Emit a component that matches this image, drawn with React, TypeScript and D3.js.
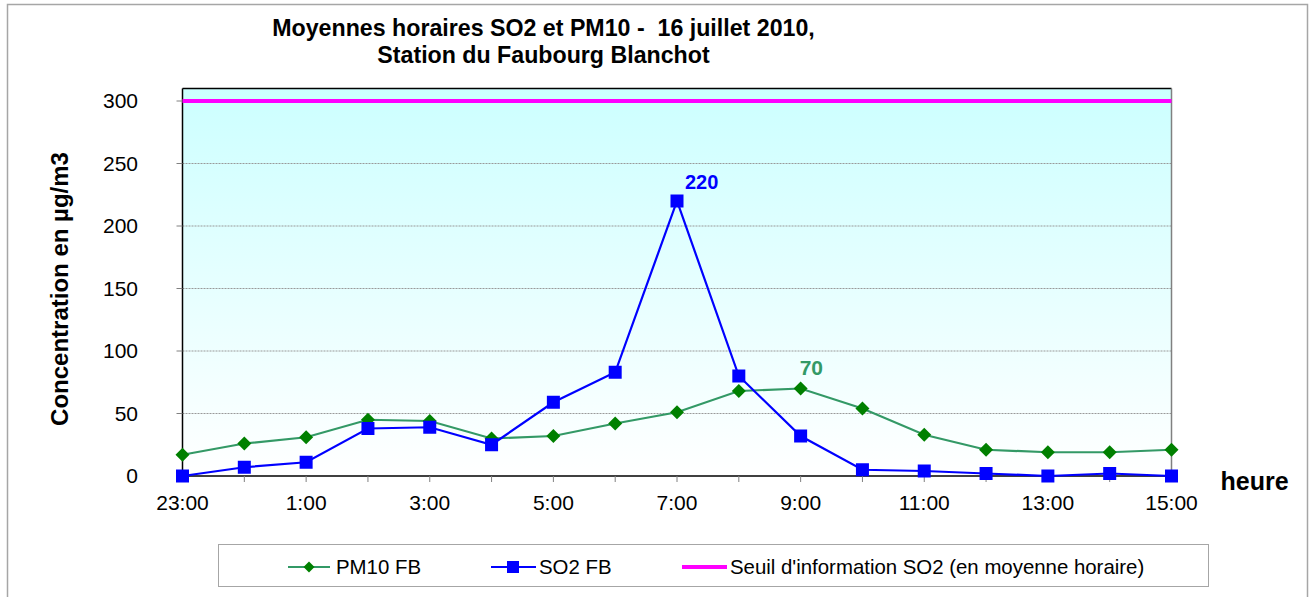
import React from "react";
import * as d3 from "d3";

const hours = ["23:00","0:00","1:00","2:00","3:00","4:00","5:00","6:00","7:00","8:00","9:00","10:00","11:00","12:00","13:00","14:00","15:00"];
const pm10 = [17, 26, 31, 45, 44, 30, 32, 42, 51, 68, 70, 54, 33, 21, 19, 19, 21];
const so2 = [0, 7, 11, 38, 39, 25, 59, 83, 220, 80, 32, 5, 4, 2, 0, 2, 0];
const seuil = 300;
const yTicks = [0, 50, 100, 150, 200, 250, 300];

const W = 1313, H = 597;
const L = 182.5, R = 1171.5, T = 88.5, B = 476;
const FONT = "'Liberation Sans', Arial, sans-serif";

export default function App() {
  const x = d3.scalePoint<string>().domain(hours).range([L, R]);
  const y = d3.scaleLinear().domain([0, 310]).range([B, T]);
  const line = d3.line<number>().x((_, i) => x(hours[i])!).y(d => y(d));
  const pmColor = "#339966";
  const pmMarker = "#008000";
  const soColor = "#0000FF";
  const diamond = (cx: number, cy: number, r: number) => `M${cx},${cy - r}L${cx + r},${cy}L${cx},${cy + r}L${cx - r},${cy}Z`;
  const iMax = so2.indexOf(d3.max(so2)!);
  const iPm = pm10.indexOf(d3.max(pm10)!);
  return (
    <svg width={W} height={H} style={{ position: "absolute", left: 0, top: 0 }} fontFamily={FONT}>
      <defs>
        <linearGradient id="bg" x1="0" y1="0" x2="0" y2="1">
          <stop offset="0" stopColor="#CCFFFF" />
          <stop offset="1" stopColor="#FFFFFF" />
        </linearGradient>
      </defs>
      <rect x={0} y={0} width={W} height={H} fill="#fff" />
      <rect x={7.5} y={4.5} width={1300} height={600} fill="#fff" stroke="#a6a6a6" strokeWidth={1.5} />
      <text x={543.5} y={36} textAnchor="middle" fontSize={23.2} fontWeight="bold" style={{ whiteSpace: "pre" }}>Moyennes horaires SO2 et PM10 -  16 juillet 2010,</text>
      <text x={543.5} y={63} textAnchor="middle" fontSize={23.2} fontWeight="bold">Station du Faubourg Blanchot</text>
      <rect x={L} y={T} width={R - L} height={B - T} fill="url(#bg)" />
      {yTicks.filter(v => v > 0).map(v => (
        <line key={v} x1={L} x2={R} y1={y(v)} y2={y(v)} stroke="#999" strokeWidth={1} strokeDasharray="2,1" />
      ))}
      <line x1={L} x2={R} y1={T} y2={T} stroke="#000" strokeWidth={1.5} />
      <line x1={R} x2={R} y1={T} y2={B} stroke="#808080" strokeWidth={1.5} />
      <line x1={L} x2={L} y1={T} y2={B} stroke="#000" strokeWidth={1.5} />
      <line x1={L} x2={R} y1={B} y2={B} stroke="#000" strokeWidth={1.5} />
      {yTicks.map(v => (
        <g key={v}>
          <line x1={L - 6} x2={L} y1={y(v)} y2={y(v)} stroke="#808080" />
          <text x={138} y={y(v) + 7} textAnchor="end" fontSize={21}>{v}</text>
        </g>
      ))}
      {hours.map((h, i) => (
        <g key={h}>
          <line x1={x(h)} x2={x(h)} y1={B} y2={B + 6} stroke="#808080" />
          {i % 2 === 0 && <text x={x(h)} y={510} textAnchor="middle" fontSize={21}>{h}</text>}
        </g>
      ))}
      <text transform={`translate(68,289) rotate(-90)`} textAnchor="middle" fontSize={24} fontWeight="bold">Concentration en µg/m3</text>
      <text x={1254.5} y={490} textAnchor="middle" fontSize={25} fontWeight="bold">heure</text>
      <line x1={L} x2={R} y1={y(seuil)} y2={y(seuil)} stroke="#FF00FF" strokeWidth={4} />
      <path d={line(pm10)!} fill="none" stroke={pmColor} strokeWidth={2.2} />
      <path d={line(so2)!} fill="none" stroke={soColor} strokeWidth={2.2} />
      {pm10.map((v, i) => (
        <path key={i} d={diamond(x(hours[i])!, y(v), 7)} fill={pmMarker} />
      ))}
      {so2.map((v, i) => (
        <rect key={i} x={x(hours[i])! - 6.5} y={y(v) - 6.5} width={13} height={13} fill={soColor} />
      ))}
      <text x={x(hours[iMax])! + 8} y={y(so2[iMax]) - 12} fontSize={20} fontWeight="bold" fill={soColor}>{so2[iMax]}</text>
      <text x={x(hours[iPm])! - 1} y={y(pm10[iPm]) - 14} fontSize={21} fontWeight="bold" fill={pmColor}>{pm10[iPm]}</text>
      <rect x={218.5} y={544.5} width={990} height={42} fill="#fff" stroke="#a6a6a6" />
      <g fontSize={20.4}>
        <line x1={288} x2={330} y1={567} y2={567} stroke={pmColor} strokeWidth={2} />
        <path d={diamond(309, 567, 5.5)} fill={pmMarker} />
        <text x={336} y={574}>PM10 FB</text>
        <line x1={491} x2={536} y1={567} y2={567} stroke={soColor} strokeWidth={2} />
        <rect x={507} y={561} width={12} height={12} fill={soColor} />
        <text x={539} y={574}>SO2 FB</text>
        <line x1={682} x2={727} y1={567} y2={567} stroke="#FF00FF" strokeWidth={4} />
        <text x={730} y={574}>Seuil d'information SO2 (en moyenne horaire)</text>
      </g>
    </svg>
  );
}
